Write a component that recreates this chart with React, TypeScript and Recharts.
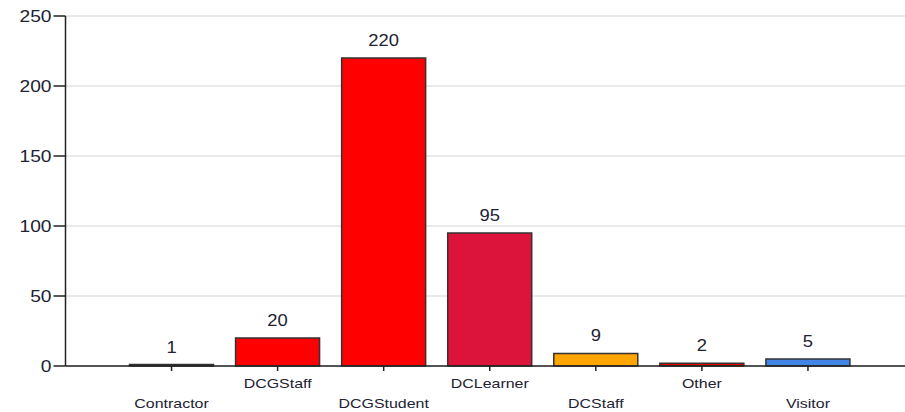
import React from 'react';
import { BarChart, Bar, XAxis, YAxis, CartesianGrid, Cell, LabelList } from 'recharts';

const categories = ['Contractor', 'DCGStaff', 'DCGStudent', 'DCLearner', 'DCStaff', 'Other', 'Visitor'];
const counts = [1, 20, 220, 95, 9, 2, 5];
const barColors = ['#000000', '#FF0000', '#FF0000', '#DC143C', '#FFA500', '#E00000', '#4285E6'];
const yTicks = [0, 50, 100, 150, 200, 250];

const data = categories.map((c, i) => ({ name: c, value: counts[i] }));

const FONT = '"Liberation Sans", Arial, sans-serif';
const TEXT = '#222233';

const XTick = (props: any) => {
  const { x, y, payload, index } = props;
  const dy = index % 2 === 0 ? 36.5 : 17;
  return (
    <text
      transform={`translate(${x},${y + dy}) scale(1.33,1)`}
      textAnchor="middle"
      fontFamily={FONT}
      fontSize={12}
      fill={TEXT}
    >
      {payload.value}
    </text>
  );
};

const YTick = (props: any) => {
  const { x, y, payload } = props;
  return (
    <text
      transform={`translate(${x},${y + 5.7}) scale(1.2,1)`}
      textAnchor="end"
      fontFamily={FONT}
      fontSize={16}
      fill={TEXT}
    >
      {payload.value}
    </text>
  );
};

const ValueLabel = (props: any) => {
  const { x, y, width, value } = props;
  return (
    <text
      transform={`translate(${x + width / 2},${y - 12}) scale(1.15,1)`}
      textAnchor="middle"
      fontFamily={FONT}
      fontSize={16}
      fill={TEXT}
    >
      {value}
    </text>
  );
};

export default function App() {
  return (
    <div style={{ position: 'absolute', left: 0, top: 0, width: 905, height: 412, overflow: 'hidden', background: '#fff' }}>
      <BarChart
        width={905}
        height={412}
        data={data}
        margin={{ top: 16, right: 0, left: 0, bottom: 0 }}
        barSize={84}
      >
        <CartesianGrid vertical={false} stroke="#e3e3e3" strokeWidth={1.5} />
        <XAxis
          dataKey="name"
          height={46}
          padding={{ left: 53, right: 44 }}
          tick={<XTick />}
          tickSize={5}
          tickMargin={0}
          interval={0}
          stroke="#222"
          strokeWidth={1.5}
          tickLine={{ stroke: '#222', strokeWidth: 1.5 }}
          axisLine={{ stroke: '#222', strokeWidth: 1.5 }}
        />
        <YAxis
          width={65.5}
          domain={[0, 250]}
          ticks={yTicks}
          tick={<YTick />}
          tickSize={12}
          tickMargin={2}
          interval={0}
          tickLine={{ stroke: '#222', strokeWidth: 1.5 }}
          axisLine={{ stroke: '#222', strokeWidth: 1.5 }}
        />
        <Bar dataKey="value" stroke="#333" strokeWidth={1.5} isAnimationActive={false}>
          {data.map((d, i) => (
            <Cell key={d.name} fill={barColors[i]} />
          ))}
          <LabelList dataKey="value" content={<ValueLabel />} />
        </Bar>
      </BarChart>
    </div>
  );
}
